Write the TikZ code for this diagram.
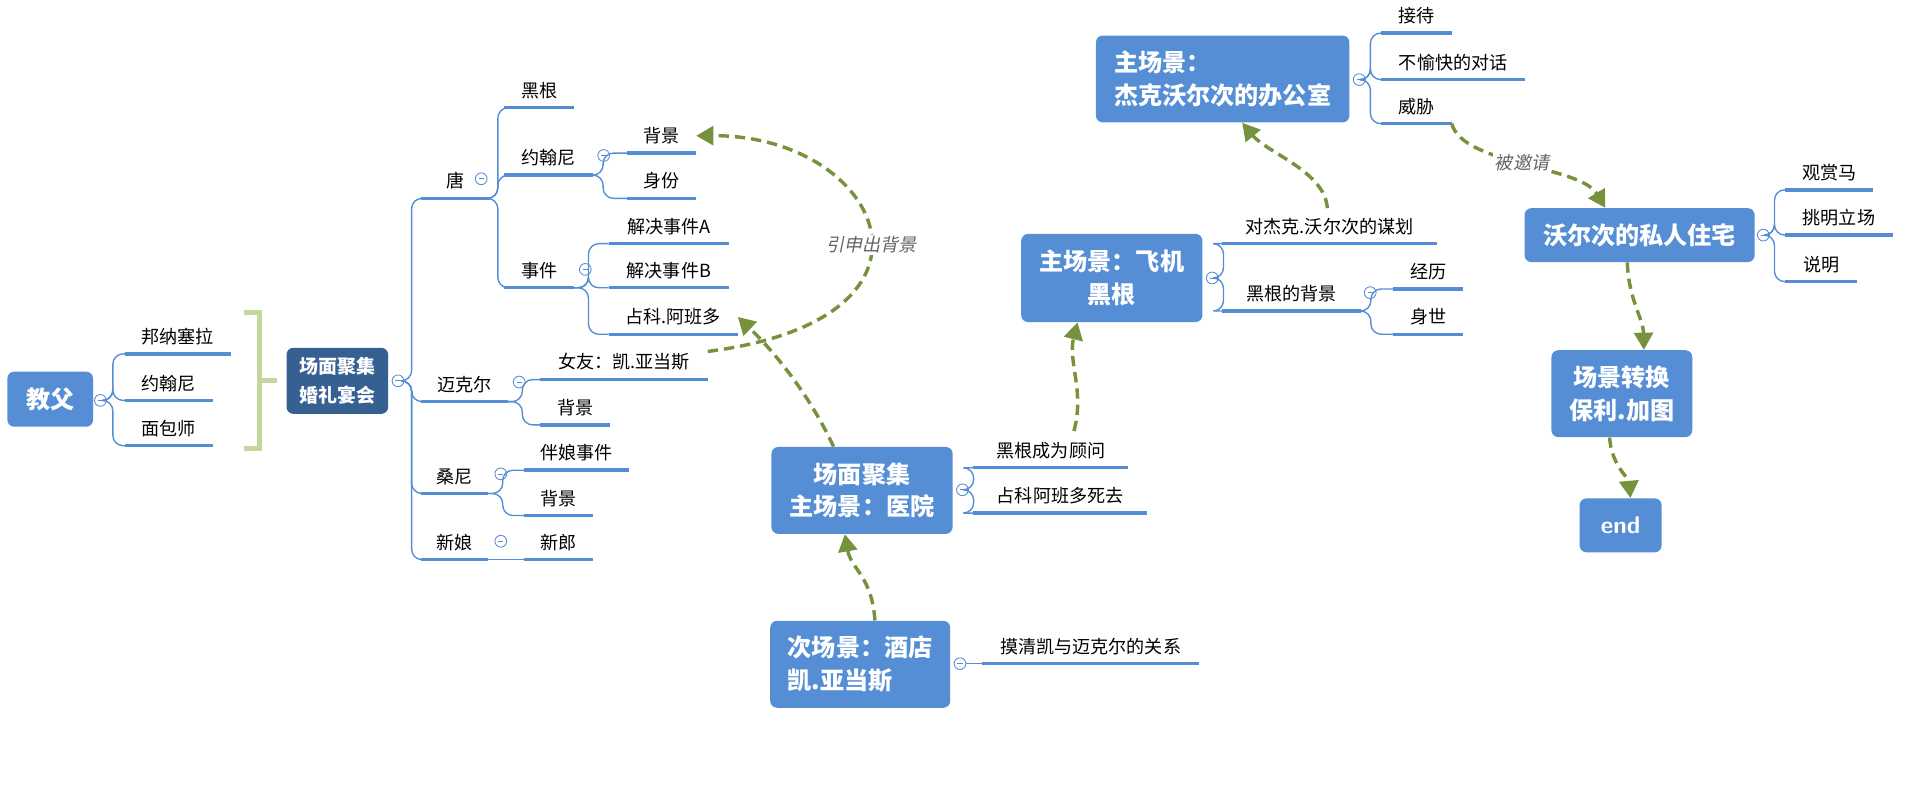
\documentclass[tikz,border=0pt]{standalone}
\usepackage{fontspec}
\setmainfont{Noto Sans CJK SC}
\newfontfamily\slantfont[FakeSlant=0.2]{Noto Sans CJK SC}
\usetikzlibrary{arrows.meta, positioning}

\definecolor{boxblue}{RGB}{85,142,213}
\definecolor{darkblue}{RGB}{54,96,146}
\definecolor{connblue}{RGB}{84,141,212}
\definecolor{dashgreen}{RGB}{118,146,60}
\definecolor{bracketgreen}{RGB}{196,215,155}
\definecolor{labelgray}{RGB}{100,100,100}

\tikzset{
  box/.style={rounded corners=4pt, fill=boxblue, text=white, font=\fontsize{14}{19}\selectfont\bfseries, inner sep=2pt},
  bw/.style 2 args={minimum width=#1*0.025cm, minimum height=#2*0.025cm},
  leaf/.style={anchor=south west, inner xsep=2pt, inner ysep=5pt, font=\fontsize{10.5}{12}\selectfont,
    minimum width=#1*0.025cm,
    append after command={(\tikzlastnode.south west) edge[uline] (\tikzlastnode.south east)}},
  uline/.style={draw=connblue, line width=2pt},
  conn/.style={draw=connblue, line width=0.8pt, rounded corners=6pt},
  tog/.style={circle, draw=connblue, fill=white, line width=0.5pt, inner sep=0pt, minimum size=0.24cm,
    path picture={\draw[connblue, line width=0.4pt] ([xshift=-1.5pt]path picture bounding box.center) -- ++(3pt,0);}},
  flow/.style={draw=dashgreen, line width=2pt, dash pattern=on 6pt off 3.5pt, -{Triangle[length=10pt,width=11pt]}},
  note/.style={fill=white, text=labelgray, font=\fontsize{10.5}{12}\selectfont\slantfont, inner sep=1pt}
}

\begin{document}
\begin{tikzpicture}[x=0.025cm, y=-0.025cm]
\useasboundingbox (0,0) rectangle (1568,653);

% left part: wedding
\node[box, bw={70}{45}] (jiaofu) at (41,326) {教父};
\node[tog] (t-jiaofu) at (82,327) {};
\node[leaf=86] (bnsl) at (102,289) {邦纳塞拉};
\node[leaf=71] (yhn1) at (102,327) {约翰尼};
\node[leaf=71] (mbs) at (102,364) {面包师};
\foreach \c in {bnsl, yhn1, mbs}
  \draw[conn] (t-jiaofu.east) -- ++(5,0) |- (\c.south west);

\draw[bracketgreen, line width=3pt] (199,255) -- (212,255) -- (212,366) -- (199,366);
\draw[bracketgreen, line width=3pt] (212,311) -- (226,311);

\node[box, fill=darkblue, bw={83}{54}, align=center, font=\fontsize{11}{17}\selectfont\bfseries] (hunli) at (275.5,311) {场面聚集\\婚礼宴会};
\node[tog] (t-hunli) at (325,311) {};

\node[leaf=56] (tang) at (344,162) {唐};
\node[tog] (t-tang) at (393,146) {};
\node[leaf=70] (mike) at (344,328) {迈克尔};
\node[tog] (t-mike) at (424,312) {};
\node[leaf=54] (sangni) at (344,403) {桑尼};
\node[tog] (t-sangni) at (409,387) {};
\node[leaf=54] (xinniang) at (344,457) {新娘};
\node[tog] (t-xinniang) at (409,442) {};
\foreach \c in {tang, mike, sangni, xinniang}
  \draw[conn] (t-hunli.east) -- ++(6,0) |- (\c.south west);

\node[leaf=56] (heigen1) at (412,88) {黑根};
\node[leaf=72] (yhn2) at (412,143) {约翰尼};
\node[tog] (t-yhn2) at (493,127) {};
\node[leaf=56] (shijian) at (412,235) {事件};
\node[tog] (t-shijian) at (478,220) {};
\foreach \c in {heigen1, yhn2, shijian}
  \draw[conn] (tang.south east) -- ++(6,0) |- (\c.south west);

\node[leaf=56] (beijing1) at (512,125) {背景};
\node[leaf=56] (shenfen) at (512,162) {身份};
\foreach \c in {beijing1, shenfen}
  \draw[conn] (yhn2.south east) -- ++(8,0) |- (\c.south west);

\node[leaf=98] (jjA) at (497,199) {解决事件A};
\node[leaf=98] (jjB) at (497,235) {解决事件B};
\node[leaf=105] (zhanke) at (497,273) {占科.阿班多};
\foreach \c in {jjA, jjB, zhanke}
  \draw[conn] (shijian.south east) -- ++(12,0) |- (\c.south west);

\node[leaf=137] (nvyou) at (441,310) {女友：凯.亚当斯};
\node[leaf=57] (beijing2) at (441,347) {背景};
\foreach \c in {nvyou, beijing2}
  \draw[conn] (mike.south east) -- ++(12,0) |- (\c.south west);

\node[leaf=85] (banniang) at (428,384) {伴娘事件};
\node[leaf=56] (beijing3) at (428,421) {背景};
\foreach \c in {banniang, beijing3}
  \draw[conn] (sangni.south east) -- ++(12,0) |- (\c.south west);

\node[leaf=56] (xinlang) at (428,457) {新郎};
\draw[conn] (xinniang.south east) -- (xinlang.south west);

% middle scenes
\node[box, bw={147}{71}, align=left] (jiudian) at (702.5,542.5) {次场景：酒店\\凯.亚当斯};
\node[tog] (t-jiudian) at (784,542) {};
\node[leaf=177] (moqing) at (802,542) {摸清凯与迈克尔的关系};
\draw[conn] (t-jiudian.east) -- (moqing.south west);

\node[box, bw={148}{71}, align=center] (yiyuan) at (704,400.5) {场面聚集\\主场景：医院};
\node[tog] (t-yiyuan) at (786,400) {};
\node[leaf=126] (guwen) at (795,382) {黑根成为顾问};
\node[leaf=141] (sigu) at (795,419) {占科阿班多死去};
\foreach \c in {guwen, sigu}
  \draw[conn] (t-yiyuan.east) -- ++(4,0) |- (\c.south west);

\node[box, bw={148}{72}, align=center] (feiji) at (908,227) {主场景：飞机\\黑根};
\node[tog] (t-feiji) at (990,227) {};
\node[leaf=175] (mouhua) at (998,199) {对杰克.沃尔次的谋划};
\node[leaf=113] (hgbj) at (998,254) {黑根的背景};
\node[tog] (t-hgbj) at (1119,239) {};
\foreach \c in {mouhua, hgbj}
  \draw[conn] (t-feiji.east) -- ++(4,0) |- (\c.south west);
\node[leaf=56] (jingli) at (1138,236) {经历};
\node[leaf=56] (shenshi) at (1138,273) {身世};
\foreach \c in {jingli, shenshi}
  \draw[conn] (hgbj.south east) -- ++(8,0) |- (\c.south west);

\node[box, bw={207}{71}, align=left] (bangong) at (998.5,64.5) {主场景：\\杰克沃尔次的办公室};
\node[tog] (t-bangong) at (1110,65) {};
\node[leaf=57] (jiedai) at (1128,27) {接待};
\node[leaf=117] (duihua) at (1128,65) {不愉快的对话};
\node[leaf=57] (weixie) at (1128,101) {威胁};
\foreach \c in {jiedai, duihua, weixie}
  \draw[conn] (t-bangong.east) -- ++(4,0) |- (\c.south west);

% right part
\node[box, bw={188}{44}] (zhuzhai) at (1339,192) {沃尔次的私人住宅};
\node[tog] (t-zhuzhai) at (1440,192) {};
\node[leaf=71] (guanshang) at (1458,155) {观赏马};
\node[leaf=87] (tiaoming) at (1458,192) {挑明立场};
\node[leaf=58] (shuoming) at (1458,230) {说明};
\foreach \c in {guanshang, tiaoming, shuoming}
  \draw[conn] (t-zhuzhai.east) -- ++(4,0) |- (\c.south west);

\node[box, bw={115}{71}, align=center] (zhuanhuan) at (1324.5,321.5) {场景转换\\保利.加图};
\node[box, bw={67}{44}, font=\fontsize{14}{16}\selectfont\bfseries\sffamily] (end) at (1323.5,429) {end};

% dashed flow arrows
\coordinate (nvyou-end) at (578,287);
\draw[flow] (nvyou-end) .. controls (790,260) and (720,110) .. (beijing1.east);
\node[note] (yinshen) at (712,200) {引申出背景};
\draw[flow] (yiyuan.north west) ++(51,0) .. controls (660,320) and (630,285) .. (zhanke.east);
\draw[flow] ([xshift=0.3cm]jiudian.north) .. controls (712,470) and (695,465) .. ([xshift=-0.35cm]yiyuan.south);
\coordinate (guwen-top) at (877,352);
\draw[flow] (guwen-top) .. controls (886,320) and (872,295) .. ([xshift=-0.7cm]feiji.south);
\coordinate (mouhua-top) at (1084,170);
\draw[flow] (mouhua-top) .. controls (1082,140) and (1035,125) .. ([xshift=0.4cm]bangong.south);
\draw[flow] (weixie.south east) .. controls (1195,135) and (1290,135) .. ([xshift=-0.7cm]zhuzhai.north);
\node[note] (beiyao) at (1243,133) {被邀请};
\draw[flow] ([xshift=-0.25cm]zhuzhai.south) .. controls (1330,245) and (1342,260) .. ([xshift=0.45cm]zhuanhuan.north);
\draw[flow] ([xshift=-0.25cm]zhuanhuan.south) .. controls (1316,380) and (1330,390) .. ([xshift=0.2cm]end.north);
\end{tikzpicture}
\end{document}
